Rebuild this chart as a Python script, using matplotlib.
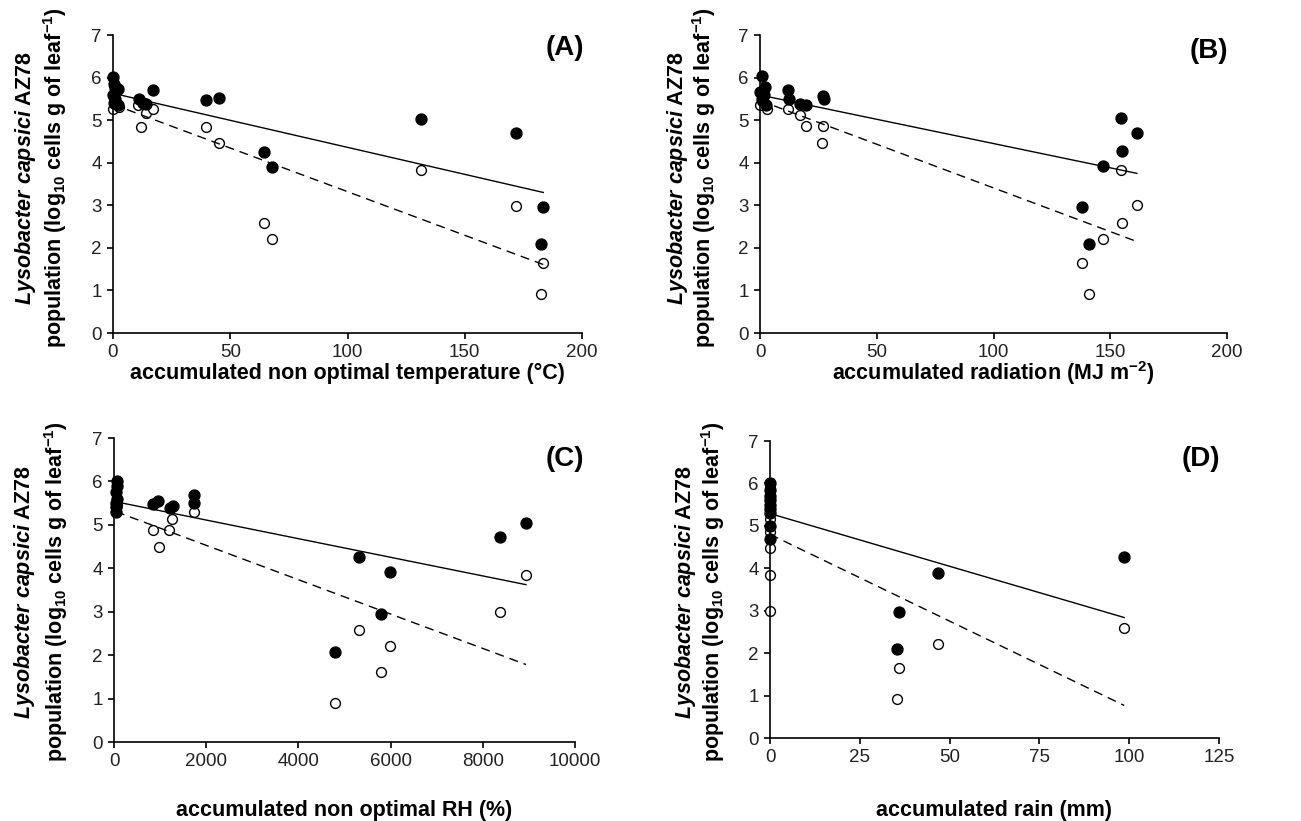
import matplotlib.pyplot as plt
import numpy as np

plt.rcParams["font.family"] = ["Liberation Sans", "DejaVu Sans"]
plt.rcParams["mathtext.fontset"] = "custom"
plt.rcParams["mathtext.rm"] = "Liberation Sans:bold"
plt.rcParams["mathtext.it"] = "Liberation Sans:bold:italic"
plt.rcParams["mathtext.bf"] = "Liberation Sans:bold"

W, H = 1301, 821

# (A) accumulated non optimal temperature
temp_filled_x = [0, 0.5, 1, 2, 0, 1, 0.5, 2, 11, 13, 14, 17, 39.5, 45, 64.3, 68, 131.5, 172, 183.5, 182.5]
temp_filled_y = [6.02, 5.85, 5.75, 5.74, 5.6, 5.5, 5.4, 5.35, 5.5, 5.4, 5.38, 5.70, 5.47, 5.53, 4.26, 3.90, 5.03, 4.69, 2.97, 2.08]
temp_open_x = [0, 2.5, 1, 0.5, 10.5, 12, 14, 17, 39.5, 45, 64.3, 68, 131.5, 172, 183.5, 182.5]
temp_open_y = [5.27, 5.30, 5.45, 5.60, 5.35, 4.84, 5.16, 5.27, 4.84, 4.47, 2.59, 2.21, 3.83, 2.99, 1.64, 0.91]

# (B) accumulated radiation
rad_filled_x = [0.7, 2, 0, 1, 2.5, 1.5, 12, 12.5, 17, 19.5, 27, 27.5, 146.7, 137.9, 141.1, 154.7, 155, 161.4]
rad_filled_y = [6.03, 5.78, 5.66, 5.50, 5.35, 5.60, 5.70, 5.50, 5.39, 5.35, 5.56, 5.50, 3.92, 2.97, 2.09, 5.04, 4.27, 4.70]
rad_open_x = [0, 2.8, 1, 11.9, 17.1, 19.7, 27.1, 26.4, 137.9, 141.1, 146.7, 154.7, 155, 161.4]
rad_open_y = [5.35, 5.27, 5.45, 5.27, 5.13, 4.86, 4.86, 4.47, 1.64, 0.91, 2.21, 3.83, 2.59, 3.00]

# (C) accumulated non optimal RH
rh_filled_x = [72, 60, 40, 60, 40, 50, 40, 853, 962, 1215, 1273, 1743, 1743, 4801, 5322, 5785, 5987, 8373, 8937]
rh_filled_y = [6.02, 5.90, 5.75, 5.60, 5.50, 5.40, 5.30, 5.48, 5.55, 5.39, 5.43, 5.69, 5.50, 2.07, 4.27, 2.95, 3.91, 4.71, 5.04]
rh_open_x = [43, 60, 853, 969, 1200, 1258, 1743, 4801, 5322, 5785, 5987, 8373, 8937]
rh_open_y = [5.29, 5.45, 4.89, 4.49, 4.89, 5.13, 5.29, 0.90, 2.57, 1.62, 2.20, 2.99, 3.84]

# (D) accumulated rain
rain_filled_x = [0, 0, 0, 0, 0, 0, 0, 0, 0, 35.3, 35.9, 46.9, 98.6]
rain_filled_y = [6.0, 5.85, 5.7, 5.6, 5.5, 5.4, 5.3, 5.0, 4.7, 2.09, 2.98, 3.90, 4.27]
rain_open_x = [0, 0, 0, 0, 0, 0, 0, 35.3, 35.9, 46.9, 98.6]
rain_open_y = [5.9, 5.3, 5.15, 4.85, 4.47, 3.84, 3.0, 0.92, 1.65, 2.21, 2.59]

# trend lines: (intercept, slope)
fit_solid = {"A": (5.63, -0.01269), "B": (5.59, -0.0114), "C": (5.54, -0.0002145), "D": (5.29, -0.02485)}
fit_dashed = {"A": (5.37, -0.0205), "B": (5.46, -0.02052), "C": (5.32, -0.0003957), "D": (4.80, -0.0409)}

xlabels = {
    "A": "accumulated non optimal temperature (°C)",
    "B": r"accumulated radiation (MJ m$^{-2}$)",
    "C": "accumulated non optimal RH (%)",
    "D": "accumulated rain (mm)",
}
ylabel_1 = r"$\it{Lysobacter\ capsici}$ AZ78"
ylabel_2 = r"population (log$_{10}$ cells g of leaf$^{-1}$)"


def fig_rect(left, top, right, bottom):
    return [left / W, 1 - bottom / H, (right - left) / W, (bottom - top) / H]


def draw_panel(fig, rect, tag, fx, fy, ox, oy, xmax, xstep,
               tag_xy, ylab_x, ylab_y, xlab_y):
    ax = fig.add_axes(fig_rect(*rect))
    ax.scatter(fx, fy, s=62, color="black", zorder=3, clip_on=False)
    ax.scatter(ox, oy, s=50, facecolor="white", edgecolor="black",
               linewidth=1.0, zorder=2, clip_on=False)

    xs = np.array([min(min(fx), min(ox)), max(max(fx), max(ox))])
    b, m = fit_solid[tag]
    ax.plot(xs, b + m * xs, color="black", linewidth=1.0, zorder=4)
    b, m = fit_dashed[tag]
    ax.plot(xs, b + m * xs, color="black", linewidth=1.0,
            linestyle=(0, (6.5, 4.3)), zorder=4)

    ax.set_xlim(0, xmax)
    ax.set_ylim(0, 7)
    ax.set_xticks(np.arange(0, xmax + 1, xstep))
    ax.set_yticks(range(8))
    for s in ["top", "right"]:
        ax.spines[s].set_visible(False)
    for s in ["left", "bottom"]:
        ax.spines[s].set_linewidth(1.2)
    ax.tick_params(direction="out", length=4, width=1.2, labelsize=13.5,
                   pad=4, labelcolor="#222222")

    fig.text(ylab_x[0] / W, 1 - ylab_y / H, ylabel_1, rotation=90,
             ha="center", va="center", fontsize=15.5, fontweight="bold")
    fig.text(ylab_x[1] / W, 1 - ylab_y / H, ylabel_2, rotation=90,
             ha="center", va="center", fontsize=15.5, fontweight="bold")
    cx = (rect[0] + rect[2]) / 2
    fig.text(cx / W, 1 - xlab_y / H, xlabels[tag], ha="center", va="center",
             fontsize=15.5, fontweight="bold")
    fig.text(tag_xy[0] / W, 1 - tag_xy[1] / H, f"({tag})", ha="center",
             va="center", fontsize=20, fontweight="bold")
    return ax


fig = plt.figure(figsize=(W / 100, H / 100), dpi=100)

draw_panel(fig, (113, 35, 582, 333), "A", temp_filled_x, temp_filled_y,
           temp_open_x, temp_open_y, 200, 50, (565, 48), (26, 55), 178, 373)
draw_panel(fig, (760, 35, 1227, 333), "B", rad_filled_x, rad_filled_y,
           rad_open_x, rad_open_y, 200, 50, (1209, 51), (678, 704), 178, 373)
draw_panel(fig, (114, 438, 575, 742), "C", rh_filled_x, rh_filled_y,
           rh_open_x, rh_open_y, 10000, 2000, (565, 459), (25, 56), 592, 810)
draw_panel(fig, (770, 441, 1219, 738), "D", rain_filled_x, rain_filled_y,
           rain_open_x, rain_open_y, 125, 25, (1201, 459), (686, 713), 592, 810)

fig.savefig("out.png", dpi=100)
